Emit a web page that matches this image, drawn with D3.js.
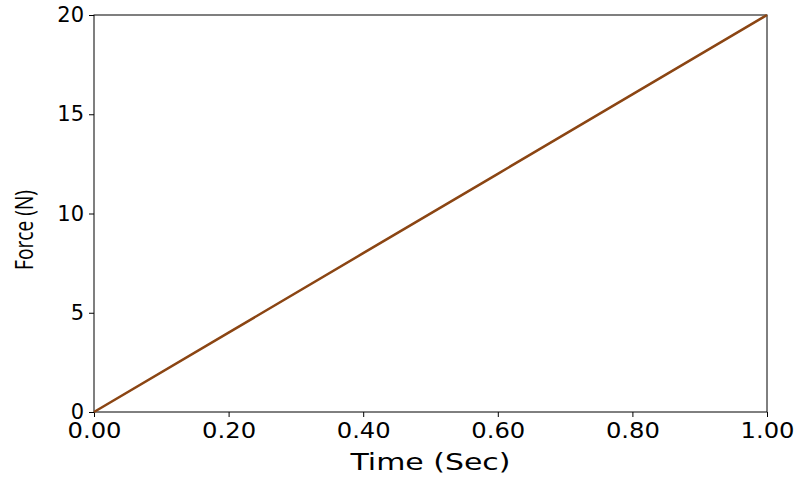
<!DOCTYPE html>
<html><head><meta charset="utf-8">
<script src="https://cdn.jsdelivr.net/npm/d3@7"></script>
<style>body{margin:0;background:#fff}</style></head>
<body><svg id="c" width="800" height="477"></svg>
<script>
const timeVals = [0, 0.2, 0.4, 0.6, 0.8, 1.0];
const forceVals = [0, 4, 8, 12, 16, 20];
const xTicks = [0, 0.2, 0.4, 0.6, 0.8, 1.0];
const yTicks = [0, 5, 10, 15, 20];

const svg = d3.select("#c");
const m = {l:94, r:33, t:15, b:65};
const W = 800, H = 477;
const x = d3.scaleLinear().domain([0,1]).range([m.l, W-m.r]);
const y = d3.scaleLinear().domain([0,20]).range([H-m.b, m.t]);

const font = "DejaVu Sans, sans-serif";
const gx = svg.append("g").attr("transform",`translate(0,${H-m.b})`)
  .call(d3.axisBottom(x).tickValues(xTicks).tickFormat(d3.format(".2f")).tickSizeOuter(0).tickSize(5));
const gy = svg.append("g").attr("transform",`translate(${m.l},0)`)
  .call(d3.axisLeft(y).tickValues(yTicks).tickSizeOuter(0).tickSize(5));
[gx,gy].forEach(g=>{g.select(".domain").remove();
  g.selectAll("text").attr("font-family",font).attr("font-size",21).attr("fill","#000");
  g.selectAll("line").attr("stroke","#000");});
gx.selectAll("text").attr("dy","0.85em").attr("textLength",54).attr("lengthAdjust","spacingAndGlyphs");
gy.selectAll("text").attr("x",-10);

svg.append("rect").attr("x",m.l).attr("y",m.t).attr("width",W-m.l-m.r).attr("height",H-m.t-m.b)
  .attr("fill","none").attr("stroke","#000").attr("stroke-width",1);

svg.append("path").datum(timeVals.map((t,i)=>[t,forceVals[i]]))
  .attr("d", d3.line().x(d=>x(d[0])).y(d=>y(d[1])))
  .attr("fill","none").attr("stroke","#8B4513").attr("stroke-width",2.5);

svg.append("text").attr("x",(m.l+W-m.r)/2).attr("y",470).attr("text-anchor","middle")
  .attr("font-family",font).attr("font-size",23).attr("textLength",160).attr("lengthAdjust","spacingAndGlyphs").text("Time (Sec)");
svg.append("text").attr("transform",`translate(33,230) rotate(-90)`)
  .attr("text-anchor","middle").attr("font-family","Open Sans, sans-serif").attr("font-size",25)
  .attr("textLength",80).attr("lengthAdjust","spacingAndGlyphs").text("Force (N)");
</script></body></html>
